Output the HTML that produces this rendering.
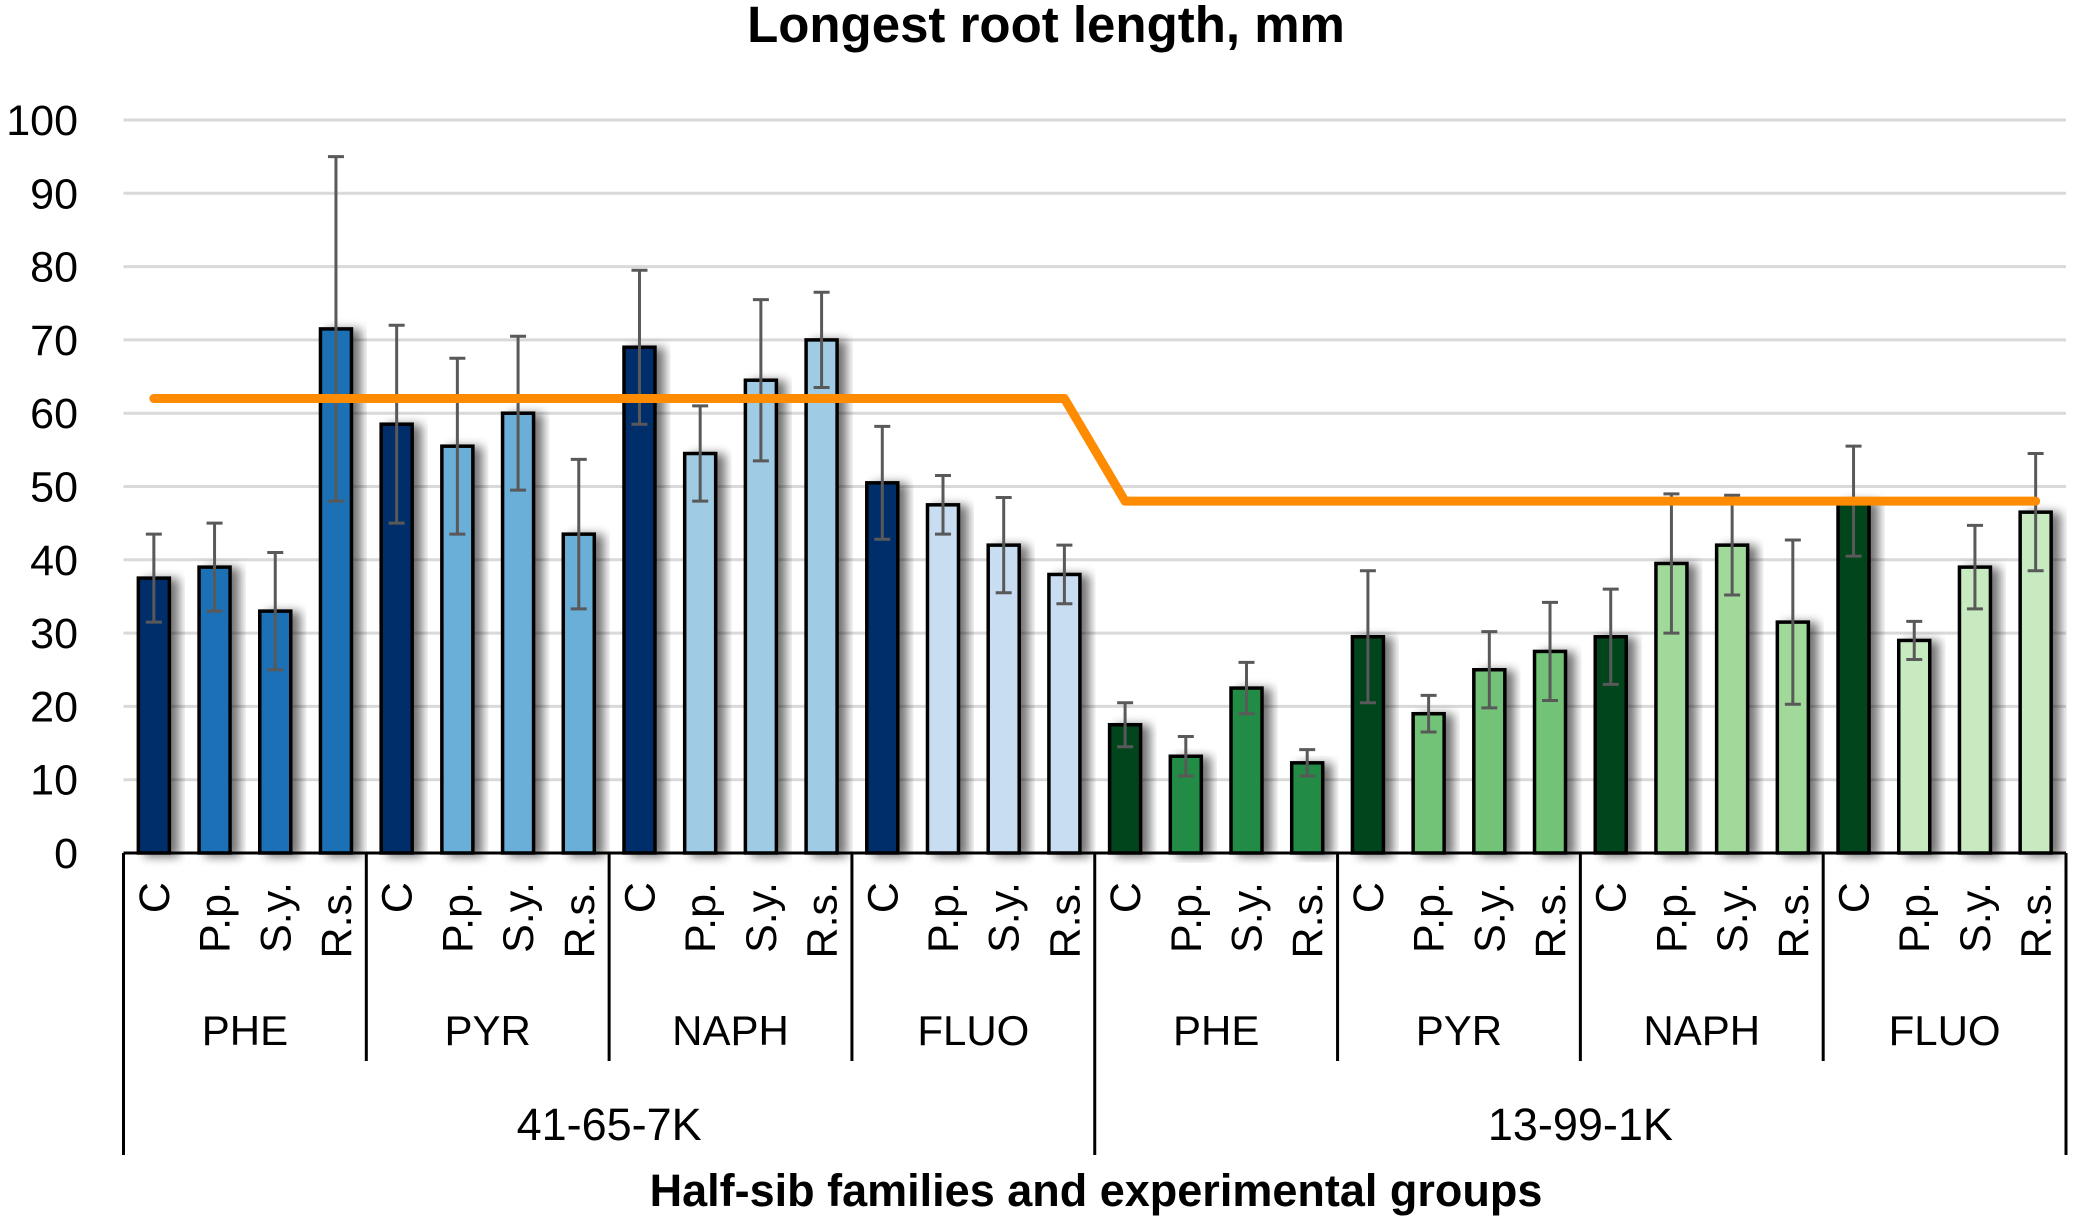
<!DOCTYPE html>
<html><head><meta charset="utf-8"><style>
html,body{margin:0;padding:0;background:#fff;}
svg{display:block;font-family:"Liberation Sans",Arial,sans-serif;}
</style></head><body>
<svg id="chart" width="2078" height="1222" viewBox="0 0 2078 1222">
<defs>
<filter id="sh" x="-30%" y="-10%" width="180%" height="120%">
<feGaussianBlur in="SourceAlpha" stdDeviation="5"/>
<feOffset dx="8" dy="2" result="b"/>
<feComponentTransfer><feFuncA type="linear" slope="0.55"/></feComponentTransfer>
<feMerge><feMergeNode/><feMergeNode in="SourceGraphic"/></feMerge>
</filter>
</defs>
<text x="1046" y="42" text-anchor="middle" font-size="51" font-weight="bold">Longest root length, mm</text>
<text x="1096" y="1206" text-anchor="middle" font-size="45" font-weight="bold">Half-sib families and experimental groups</text>
<g id="grid"></g><g id="bars"></g><g id="errs"></g><g id="line"></g><g id="axes"></g>
</svg>
<script>
const families = ["41-65-7K","13-99-1K"];
const groups = ["PHE","PYR","NAPH","FLUO"];
const treatments = ["C","P.p.","S.y.","R.s."];
const values = [37.5,39,33,71.5, 58.5,55.5,60,43.5, 69,54.5,64.5,70, 50.5,47.5,42,38,
                17.5,13.2,22.5,12.3, 29.5,19,25,27.5, 29.5,39.5,42,31.5, 48,29,39,46.5];
const errors = [6,6,8,23.5, 13.5,12,10.5,10.2, 10.5,6.5,11,6.5, 7.7,4,6.5,4,
                3,2.7,3.5,1.8, 9,2.5,5.2,6.7, 6.5,9.5,6.8,11.2, 7.5,2.6,5.7,8];
const meanLine = [62,62,62,62,62,62,62,62,62,62,62,62,62,62,62,62,
                  48,48,48,48,48,48,48,48,48,48,48,48,48,48,48,48];
const yTicks = [0,10,20,30,40,50,60,70,80,90,100];
const palette = [["#062e6b","#1f6fb5","#6aafd8","#9fcbe5","#c8ddf2"],
                 ["#00441b","#238b45","#72c377","#a1d99b","#c8eac1"]];

const NS="http://www.w3.org/2000/svg";
const L=123.5,R=2066,Y0=853,PX=7.33;
const n=values.length, cw=(R-L)/n;
const y=v=>Y0-v*PX;
const xc=i=>L+(i+0.5)*cw;
function mk(tag,attrs,parent,txt){const e=document.createElementNS(NS,tag);for(const k in attrs)e.setAttribute(k,attrs[k]);if(txt!==undefined)e.textContent=txt;parent.appendChild(e);return e;}
const grid=document.getElementById('grid'),bars=document.getElementById('bars'),errs=document.getElementById('errs'),lineG=document.getElementById('line'),axes=document.getElementById('axes');

yTicks.forEach(t=>{
  if(t>0){const g=mk('line',{x1:L,x2:R,y1:y(t),y2:y(t),stroke:'#d9d9d9','stroke-width':3},grid);
  
  }
  const tl=mk('text',{x:78,y:y(t)+15,'text-anchor':'end','font-size':43},axes,String(t));
  
  
});

const bw=31;
values.forEach((v,i)=>{
  const fam=Math.floor(i/16), grp=Math.floor((i%16)/4), tr=i%4;
  const col=tr===0?palette[fam][0]:palette[fam][grp+1];
  const b=mk('rect',{x:xc(i)-bw/2,y:y(v),width:bw,height:Y0-y(v),fill:col,stroke:'#000','stroke-width':3.5,filter:'url(#sh)'},bars);
  
  
  const e=errors[i], g=mk('g',{stroke:'#595959','stroke-width':3},errs);
  
  
  mk('line',{x1:xc(i),x2:xc(i),y1:y(v+e),y2:y(v-e)},g);
  mk('line',{x1:xc(i)-8,x2:xc(i)+8,y1:y(v+e),y2:y(v+e)},g);
  mk('line',{x1:xc(i)-8,x2:xc(i)+8,y1:y(v-e),y2:y(v-e)},g);
  const lx=xc(i)+15, lt=mk('text',{x:lx,y:882,'text-anchor':'end','font-size':43,transform:'rotate(-90 '+lx+' 882)'},axes,treatments[tr]);
  
  
});

const pts=meanLine.map((v,i)=>xc(i)+','+y(v)).join(' ');
const pl=mk('polyline',{points:pts,fill:'none',stroke:'#ff8c00','stroke-width':9,'stroke-linecap':'round','stroke-linejoin':'round'},lineG);



const ax=mk('line',{x1:L,x2:R,y1:Y0,y2:Y0,stroke:'#000','stroke-width':3},axes);


for(let k=0;k<=8;k++){
  const x=L+k*4*cw, fb=(k%4===0);
  const s=mk('line',{x1:x,x2:x,y1:Y0,y2:fb?1155:1061,stroke:'#000','stroke-width':3},axes);
  
  
  if(k<8){const gt=mk('text',{x:L+(k*4+2)*cw,y:1045,'text-anchor':'middle','font-size':42},axes,groups[k%4]);
  
  }
}
families.forEach((f,j)=>{
  const ft=mk('text',{x:L+(j*16+8)*cw,y:1140,'text-anchor':'middle','font-size':45},axes,f);
  
  
});
</script>
</body></html>
